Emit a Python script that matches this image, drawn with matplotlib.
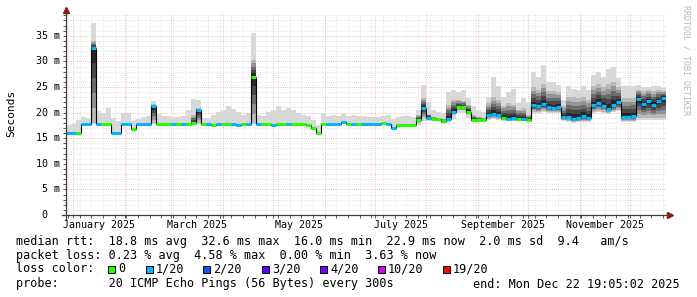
import matplotlib
matplotlib.use("Agg")
import matplotlib.pyplot as plt
import matplotlib.dates as mdates
from matplotlib.patches import Rectangle
from matplotlib.ticker import MultipleLocator
from matplotlib.transforms import blended_transform_factory
from datetime import datetime, timedelta

# time span of the graph (last 360 days), one column = 3 days
start = datetime(2024, 12, 27, 19, 5, 2)
end = datetime(2025, 12, 22, 19, 5, 2)
step_days = 3

# median rtt per column (ms)
median = [16.0, 16.0, 16.0, 17.7, 17.7, 32.6, 17.7, 17.7, 17.7, 16.0,
          16.0, 17.7, 17.7, 16.8, 17.7, 17.7, 17.7, 21.2, 17.7, 17.7,
          17.7, 17.7, 17.7, 17.7, 17.7, 17.9, 20.5, 17.7, 17.7, 17.6,
          17.7, 17.7, 17.7, 17.7, 17.6, 17.7, 17.7, 27.0, 17.7, 17.7,
          17.7, 17.6, 17.7, 17.7, 17.7, 17.7, 17.7, 17.7, 17.5, 16.9,
          16.0, 17.7, 17.7, 17.7, 17.7, 18.2, 17.7, 17.7, 17.7, 17.7,
          17.7, 17.7, 17.7, 17.9, 17.7, 17.0, 17.6, 17.6, 17.6, 17.6,
          18.6, 20.8, 18.9, 18.7, 18.7, 18.3, 18.8, 20.2, 21.0, 21.0,
          20.2, 18.6, 18.6, 18.6, 19.5, 19.8, 19.6, 19.0, 18.8, 19.0,
          18.7, 18.7, 18.6, 21.4, 21.2, 21.6, 21.0, 20.9, 21.0, 19.2,
          19.2, 18.8, 19.0, 19.3, 19.0, 21.4, 21.9, 21.3, 20.7, 21.5,
          22.1, 19.2, 19.2, 19.3, 22.7, 21.6, 22.3, 21.5, 22.3, 22.9]

# lost pings out of 20 per column
loss = [1, 1, 0, 1, 1, 1, 1, 0, 0, 1,
        1, 1, 1, 0, 1, 1, 1, 1, 0, 0,
        0, 1, 0, 1, 0, 0, 1, 0, 1, 0,
        1, 0, 0, 1, 1, 0, 1, 0, 1, 0,
        0, 1, 0, 0, 1, 0, 0, 0, 0, 0,
        0, 0, 1, 1, 1, 1, 0, 1, 0, 1,
        1, 1, 1, 0, 1, 1, 0, 0, 0, 0,
        0, 1, 1, 0, 0, 0, 1, 1, 0, 0,
        0, 0, 0, 0, 1, 1, 1, 0, 1, 1,
        0, 1, 0, 1, 1, 1, 1, 1, 1, 1,
        1, 1, 1, 1, 1, 1, 1, 1, 1, 1,
        1, 1, 1, 1, 1, 1, 1, 1, 1, 1]

# smoke: full ping range per column
smoke_lo = [15.8, 15.8, 15.8, 17.5, 17.5, 17.7, 17.5, 17.5, 17.5, 15.8,
            15.8, 17.5, 17.5, 16.6, 17.5, 17.5, 17.5, 17.7, 17.5, 17.5,
            17.5, 17.5, 17.5, 17.5, 17.5, 17.6, 17.7, 17.5, 17.5, 17.4,
            17.5, 17.5, 17.5, 17.5, 17.4, 17.5, 17.5, 17.7, 17.5, 17.5,
            17.5, 17.4, 17.5, 17.5, 17.5, 17.5, 17.5, 17.5, 17.3, 16.7,
            15.8, 17.5, 17.5, 17.5, 17.5, 17.8, 17.5, 17.5, 17.5, 17.5,
            17.5, 17.5, 17.5, 17.7, 17.5, 16.8, 17.4, 17.4, 17.4, 17.4,
            17.6, 18.3, 18.3, 18.3, 18.3, 17.8, 18.0, 18.8, 20.0, 20.0,
            19.0, 18.2, 18.3, 18.3, 18.5, 18.7, 18.6, 18.4, 18.3, 18.3,
            18.3, 18.3, 18.3, 19.8, 20.0, 20.2, 20.0, 20.0, 20.0, 18.3,
            18.2, 18.0, 18.1, 18.2, 18.2, 20.0, 20.2, 20.0, 19.8, 20.1,
            20.3, 18.2, 18.2, 18.2, 18.5, 18.5, 18.6, 18.5, 18.6, 18.6]
smoke_hi = [17.6, 17.7, 18.6, 19.2, 19.0, 37.4, 20.3, 20.0, 20.8, 18.9,
            18.4, 19.9, 19.9, 18.3, 18.8, 19.2, 19.3, 22.3, 19.7, 19.3,
            19.3, 19.2, 19.2, 19.3, 20.5, 22.6, 22.5, 19.0, 19.0, 19.5,
            20.2, 20.5, 21.2, 20.7, 20.2, 19.5, 19.9, 35.5, 19.5, 19.4,
            20.2, 20.5, 21.2, 20.5, 20.8, 20.5, 19.9, 19.5, 19.3, 18.6,
            17.6, 19.9, 19.4, 19.5, 19.4, 19.7, 19.4, 19.5, 19.4, 19.3,
            19.2, 19.2, 19.2, 19.4, 19.5, 18.8, 19.2, 19.3, 19.4, 19.2,
            20.5, 25.4, 22.0, 20.5, 20.2, 20.0, 24.1, 24.4, 24.1, 24.4,
            22.8, 21.2, 20.5, 20.2, 23.1, 27.0, 25.1, 23.1, 24.1, 24.7,
            21.8, 22.8, 22.0, 28.0, 27.0, 29.3, 26.0, 26.0, 25.4, 22.5,
            25.1, 24.7, 24.4, 25.1, 24.4, 27.3, 28.0, 27.0, 28.6, 29.0,
            26.7, 25.1, 25.2, 25.1, 25.4, 25.0, 25.0, 25.1, 25.1, 24.9]

# dense part of the smoke (darker band around the median)
dark_lo = [16.0, 16.0, 16.0, 17.7, 17.7, 18.0, 17.7, 17.7, 17.7, 16.0,
           16.0, 17.7, 17.7, 16.8, 17.7, 17.7, 17.7, 18.0, 17.7, 17.7,
           17.7, 17.7, 17.7, 17.7, 17.7, 17.8, 18.0, 17.7, 17.7, 17.6,
           17.7, 17.7, 17.7, 17.7, 17.6, 17.7, 17.7, 18.0, 17.7, 17.7,
           17.7, 17.6, 17.7, 17.7, 17.7, 17.7, 17.7, 17.7, 17.5, 16.9,
           16.0, 17.7, 17.7, 17.7, 17.7, 18.2, 17.7, 17.7, 17.7, 17.7,
           17.7, 17.7, 17.7, 17.9, 17.7, 17.0, 17.6, 17.6, 17.6, 17.6,
           18.0, 19.0, 18.6, 18.5, 18.5, 18.0, 18.4, 19.5, 20.5, 20.5,
           19.5, 18.4, 18.4, 18.4, 18.8, 18.9, 18.8, 18.5, 18.4, 18.4,
           18.4, 18.4, 18.4, 20.2, 20.2, 20.4, 20.2, 20.2, 20.2, 18.5,
           18.4, 18.2, 18.3, 18.4, 18.4, 20.2, 20.4, 20.2, 20.0, 20.3,
           20.5, 18.4, 18.4, 18.4, 19.0, 19.0, 19.0, 19.0, 19.0, 19.0]
dark_hi = [16.0, 16.0, 16.0, 17.7, 17.7, 34.0, 17.7, 17.7, 17.7, 16.0,
           16.0, 17.7, 17.7, 16.8, 17.7, 17.7, 17.7, 21.6, 17.7, 17.7,
           17.7, 17.7, 17.7, 17.7, 17.7, 19.5, 20.8, 17.7, 17.7, 17.6,
           17.7, 17.7, 17.7, 17.7, 17.6, 17.7, 17.7, 30.3, 17.7, 17.7,
           17.7, 17.6, 17.7, 17.7, 17.7, 17.7, 17.7, 17.7, 17.5, 16.9,
           16.0, 17.7, 17.7, 17.7, 17.7, 18.2, 17.7, 17.7, 17.7, 17.7,
           17.7, 17.7, 17.7, 17.9, 17.7, 17.0, 17.6, 17.6, 17.6, 17.6,
           19.5, 22.8, 19.8, 19.2, 19.0, 18.8, 21.5, 22.5, 22.5, 22.3,
           21.5, 19.5, 19.2, 19.0, 21.8, 23.0, 22.5, 21.3, 21.8, 21.5,
           20.6, 20.8, 19.5, 25.0, 24.5, 25.5, 24.2, 24.2, 24.0, 21.2,
           23.0, 23.0, 22.8, 23.0, 22.5, 25.2, 25.5, 25.0, 25.5, 26.0,
           25.0, 22.8, 22.8, 22.8, 24.5, 24.2, 24.4, 24.2, 24.4, 24.2]

loss_levels = [0, 1, 2, 3, 4, 10, 19]
loss_colors = ['#26ff00', '#00b8ff', '#0059ff', '#5e00ff', '#7e00ff', '#dd00ff', '#ff0000']
loss_labels = ['0', '1/20', '2/20', '3/20', '4/20', '10/20', '19/20']

month_labels = ['January 2025', 'March 2025', 'May 2025', 'July 2025',
                'September 2025', 'November 2025']
label_months = [1, 3, 5, 7, 9, 11]
ytick_values = [0, 5, 10, 15, 20, 25, 30, 35]
ytick_labels = [' 0  ', ' 5 m', '10 m', '15 m', '20 m', '25 m', '30 m', '35 m']

line1 = "median rtt:  18.8 ms avg  32.6 ms max  16.0 ms min  22.9 ms now  2.0 ms sd  9.4   am/s"
line2 = "packet loss: 0.23 % avg  4.58 % max  0.00 % min  3.63 % now"
line3 = "loss color:"
line4 = "probe:       20 ICMP Echo Pings (56 Bytes) every 300s"
end_text = "end: Mon Dec 22 19:05:02 2025"

W, H = 697, 297
MONO = 'DejaVu Sans Mono'
axis_col = '#3c3c3c'
arrow_col = '#8b1a1a'

fig = plt.figure(figsize=(W / 100, H / 100), dpi=100)
fig.patch.set_facecolor('white')
ax = fig.add_axes([66 / W, (H - 215) / H, 600 / W, 202 / H])

edges = [mdates.date2num(start + timedelta(days=step_days * i)) for i in range(len(median) + 1)]

# smoke
ax.stairs(smoke_hi, edges, baseline=smoke_lo, fill=True, color='#d8d8d8', lw=0, zorder=2)
shades = ['#b8b8b8', '#939393', '#6c6c6c', '#474747', '#262626']
for k, shade in enumerate(shades):
    f = 1 - k / len(shades)
    lo_k = [m - (m - d) * f for m, d in zip(median, dark_lo)]
    hi_k = [m + (d - m) * f for m, d in zip(median, dark_hi)]
    ax.stairs(hi_k, edges, baseline=lo_k, fill=True, color=shade, lw=0, zorder=3)

# median line, coloured by loss
ax.stairs(median, edges, baseline=None, color='black', lw=0.8, zorder=4)
col_of = dict(zip(loss_levels, loss_colors))
ax.hlines(median, edges[:-1], edges[1:], colors=[col_of[l] for l in loss],
          lw=2.2, capstyle='butt', zorder=5)

ax.set_xlim(mdates.date2num(start), mdates.date2num(end))
ax.set_ylim(0, 39.45)

# grid
ax.xaxis.set_major_locator(mdates.MonthLocator())
ax.xaxis.set_minor_locator(mdates.WeekdayLocator(byweekday=mdates.SU))
ax.yaxis.set_major_locator(MultipleLocator(5))
ax.yaxis.set_minor_locator(MultipleLocator(1))
ax.grid(which='minor', color='#dcdcdc', ls=(0, (1, 1.5)), lw=0.6)
ax.grid(which='major', color='#eeaaaa', ls=(0, (1, 1.5)), lw=0.6)
ax.set_axisbelow(True)
ax.tick_params(which='both', labelbottom=False, labelleft=False, direction='out',
               length=2.5, width=0.6, color=axis_col)
for s in ax.spines.values():
    s.set_visible(False)

# axis lines with arrows
ax.plot([-0.007, 1.01], [0, 0], transform=ax.transAxes, color=axis_col, lw=0.9, clip_on=False, zorder=6)
ax.plot([0, 0], [-0.02, 1.02], transform=ax.transAxes, color=axis_col, lw=0.9, clip_on=False, zorder=6)
ax.plot([1.007], [0], marker='>', ms=4.5, color=arrow_col, transform=ax.transAxes, clip_on=False, zorder=7)
ax.plot([0], [1.015], marker='^', ms=4.5, color=arrow_col, transform=ax.transAxes, clip_on=False, zorder=7)

# y tick labels
ytr = blended_transform_factory(fig.transFigure, ax.transData)
for v, lab in zip(ytick_values, ytick_labels):
    ax.text(36 / W, v, lab, transform=ytr, ha='left', va='center',
            family=MONO, fontsize=7.2, color='black')

# month labels, centred in their month
xtr = blended_transform_factory(ax.transData, fig.transFigure)
for m, lab in zip(label_months, month_labels):
    a = mdates.date2num(datetime(2025, m, 1))
    b = mdates.date2num(datetime(2025, m + 1, 1))
    ax.text((a + b) / 2, 1 - 225 / H, lab, transform=xtr, ha='center', va='center',
            family=MONO, fontsize=7.2, color='black')

fig.text(11 / W, 1 - 113 / H, 'Seconds', rotation=90, ha='center', va='center',
         family=MONO, fontsize=8)
fig.text(686 / W, 1 - 60 / H, 'RRDTOOL / TOBI OETIKER', rotation=270, ha='center',
         va='center', family=MONO, fontsize=6, color='#b8b8b8')

# legend block
def px(x, y):
    return x / W, 1 - y / H

fs = 8.5
fig.text(*px(16, 241), line1, ha='left', va='center', family=MONO, fontsize=fs)
fig.text(*px(16, 255), line2, ha='left', va='center', family=MONO, fontsize=fs)
fig.text(*px(16, 269), line3, ha='left', va='center', family=MONO, fontsize=fs)
fig.text(*px(16, 284), line4, ha='left', va='center', family=MONO, fontsize=fs)
fig.text(*px(680, 284), end_text, ha='right', va='center', family=MONO, fontsize=fs)

square_x = [108, 146, 203, 262, 320, 378, 443]
for x, c, lab in zip(square_x, loss_colors, loss_labels):
    fig.add_artist(Rectangle(px(x, 272.5), 7 / W, 7 / H, transform=fig.transFigure,
                             facecolor=c, edgecolor='black', lw=0.7))
    fig.text(*px(x + 10, 269), lab, ha='left', va='center', family=MONO, fontsize=fs)

fig.savefig('out.png', dpi=100, facecolor='white')
